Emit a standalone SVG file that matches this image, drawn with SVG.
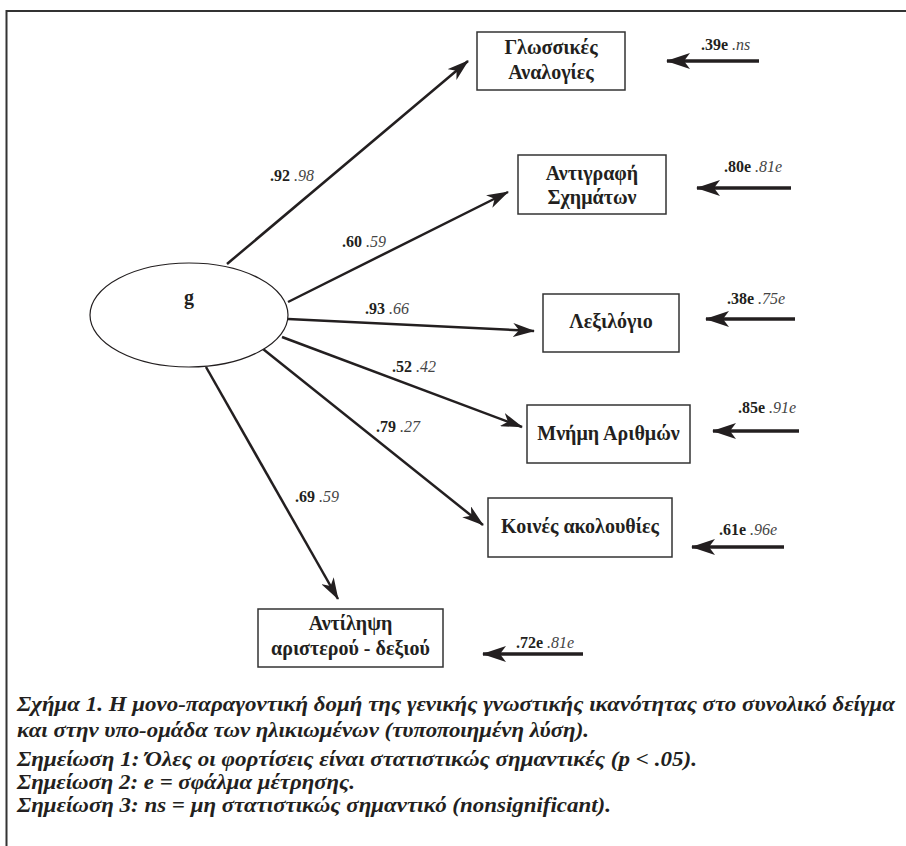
<svg xmlns="http://www.w3.org/2000/svg" width="906" height="846" viewBox="0 0 906 846">
<defs>
<style>
.frame{fill:none;stroke:#333;stroke-width:2}
.box{fill:#fff;stroke:#333;stroke-width:1.5}
.lbl{font-family:'Liberation Serif','DejaVu Serif',serif;font-weight:bold;font-size:20px;fill:#231f20;text-anchor:middle}
.num{font-family:'Liberation Serif','DejaVu Serif',serif;font-size:16px;fill:#231f20}
.b{font-weight:bold}
.i{font-style:italic;fill:#444}
.conn{fill:none;stroke:#231f20;stroke-width:2.5}
.err{fill:none;stroke:#231f20;stroke-width:3.5}
.cap{font-family:'Liberation Serif','DejaVu Serif',serif;font-weight:bold;font-style:italic;font-size:21px;fill:#231f20}
</style>
<marker id="ah" markerUnits="userSpaceOnUse" viewBox="0 0 22 14" refX="21" refY="7" markerWidth="22" markerHeight="14" orient="auto">
<path d="M0,0 L22,7 L0,14 L6,7 Z" fill="#231f20"/>
</marker>
<marker id="ahe" markerUnits="userSpaceOnUse" viewBox="0 0 24 16" refX="23" refY="8" markerWidth="24" markerHeight="16" orient="auto">
<path d="M0,0 L24,8 L0,16 L6,8 Z" fill="#231f20"/>
</marker>
</defs>
<rect width="906" height="846" fill="#fff"/>
<path class="frame" d="M6.5,846 L6.5,11 L906,11"/>

<g id="connectors">
<path class="conn" d="M227,264 L468,61" marker-end="url(#ah)"/>
<path class="conn" d="M288,302 L508,192" marker-end="url(#ah)"/>
<path class="conn" d="M288,319 L534,331" marker-end="url(#ah)"/>
<path class="conn" d="M282,337 L522,427" marker-end="url(#ah)"/>
<path class="conn" d="M263,349 L483,525" marker-end="url(#ah)"/>
<path class="conn" d="M206,367 L338,599" marker-end="url(#ah)"/>
<path class="err" d="M759,61 L667,61" marker-end="url(#ahe)"/>
<path class="err" d="M791,188 L697,188" marker-end="url(#ahe)"/>
<path class="err" d="M795,319 L706,319" marker-end="url(#ahe)"/>
<path class="err" d="M799,431 L713,431" marker-end="url(#ahe)"/>
<path class="err" d="M784,547 L692,547" marker-end="url(#ahe)"/>
<path class="err" d="M583,654 L483,654" marker-end="url(#ahe)"/>
</g>

<g id="path-labels">
<text class="num" x="270" y="181"><tspan class="b">.92</tspan> <tspan class="i">.98</tspan></text>
<text class="num" x="342" y="247"><tspan class="b">.60</tspan> <tspan class="i">.59</tspan></text>
<text class="num" x="365" y="314"><tspan class="b">.93</tspan> <tspan class="i">.66</tspan></text>
<text class="num" x="392" y="372"><tspan class="b">.52</tspan> <tspan class="i">.42</tspan></text>
<text class="num" x="376" y="432"><tspan class="b">.79</tspan> <tspan class="i">.27</tspan></text>
<text class="num" x="295" y="502"><tspan class="b">.69</tspan> <tspan class="i">.59</tspan></text>
</g>

<g id="error-labels">
<text class="num" x="701" y="50"><tspan class="b">.39e</tspan> <tspan class="i">.ns</tspan></text>
<text class="num" x="724" y="172"><tspan class="b">.80e</tspan> <tspan class="i">.81e</tspan></text>
<text class="num" x="727" y="304"><tspan class="b">.38e</tspan> <tspan class="i">.75e</tspan></text>
<text class="num" x="738" y="413"><tspan class="b">.85e</tspan> <tspan class="i">.91e</tspan></text>
<text class="num" x="719" y="535"><tspan class="b">.61e</tspan> <tspan class="i">.96e</tspan></text>
<text class="num" x="516" y="648"><tspan class="b">.72e</tspan> <tspan class="i">.81e</tspan></text>
</g>

<g id="g">
<ellipse cx="189" cy="315" rx="99" ry="52" fill="#fff" stroke="#231f20" stroke-width="1.2"/>
<text class="lbl" x="189" y="304">g</text>
</g>

<g id="glossikes">
<rect class="box" x="477" y="32" width="148" height="58"/>
<text class="lbl" x="551" y="54">Γλωσσικές</text>
<text class="lbl" x="551" y="79">Αναλογίες</text>
</g>

<g id="antigrafi">
<rect class="box" x="518" y="155" width="148" height="59"/>
<text class="lbl" x="592" y="180">Αντιγραφή</text>
<text class="lbl" x="592" y="204">Σχημάτων</text>
</g>

<g id="lexilogio">
<rect class="box" x="543" y="294" width="136" height="58"/>
<text class="lbl" x="611" y="328">Λεξιλόγιο</text>
</g>

<g id="mnimi">
<rect class="box" x="527" y="405" width="163" height="58"/>
<text class="lbl" x="608.5" y="440">Μνήμη Αριθμών</text>
</g>

<g id="koines">
<rect class="box" x="488" y="498" width="184" height="59"/>
<text class="lbl" x="580" y="533">Κοινές ακολουθίες</text>
</g>

<g id="antilipsi">
<rect class="box" x="258" y="609" width="185" height="58"/>
<text class="lbl" x="350.5" y="630">Αντίληψη</text>
<text class="lbl" x="350.5" y="655">αριστερού - δεξιού</text>
</g>

<g id="caption">
<text class="cap" x="17" y="711" textLength="878" lengthAdjust="spacingAndGlyphs">Σχήμα 1. Η μονο-παραγοντική δομή της γενικής γνωστικής ικανότητας στο συνολικό δείγμα</text>
<text class="cap" x="17" y="737" textLength="572" lengthAdjust="spacingAndGlyphs">και στην υπο-ομάδα των ηλικιωμένων (τυποποιημένη λύση).</text>
<text class="cap" x="17" y="766" textLength="680" lengthAdjust="spacingAndGlyphs">Σημείωση 1: Όλες οι φορτίσεις είναι στατιστικώς σημαντικές (p &lt; .05).</text>
<text class="cap" x="17" y="789" textLength="338" lengthAdjust="spacingAndGlyphs">Σημείωση 2: e = σφάλμα μέτρησης.</text>
<text class="cap" x="17" y="812" textLength="594" lengthAdjust="spacingAndGlyphs">Σημείωση 3: ns = μη στατιστικώς σημαντικό (nonsignificant).</text>
</g>
</svg>
